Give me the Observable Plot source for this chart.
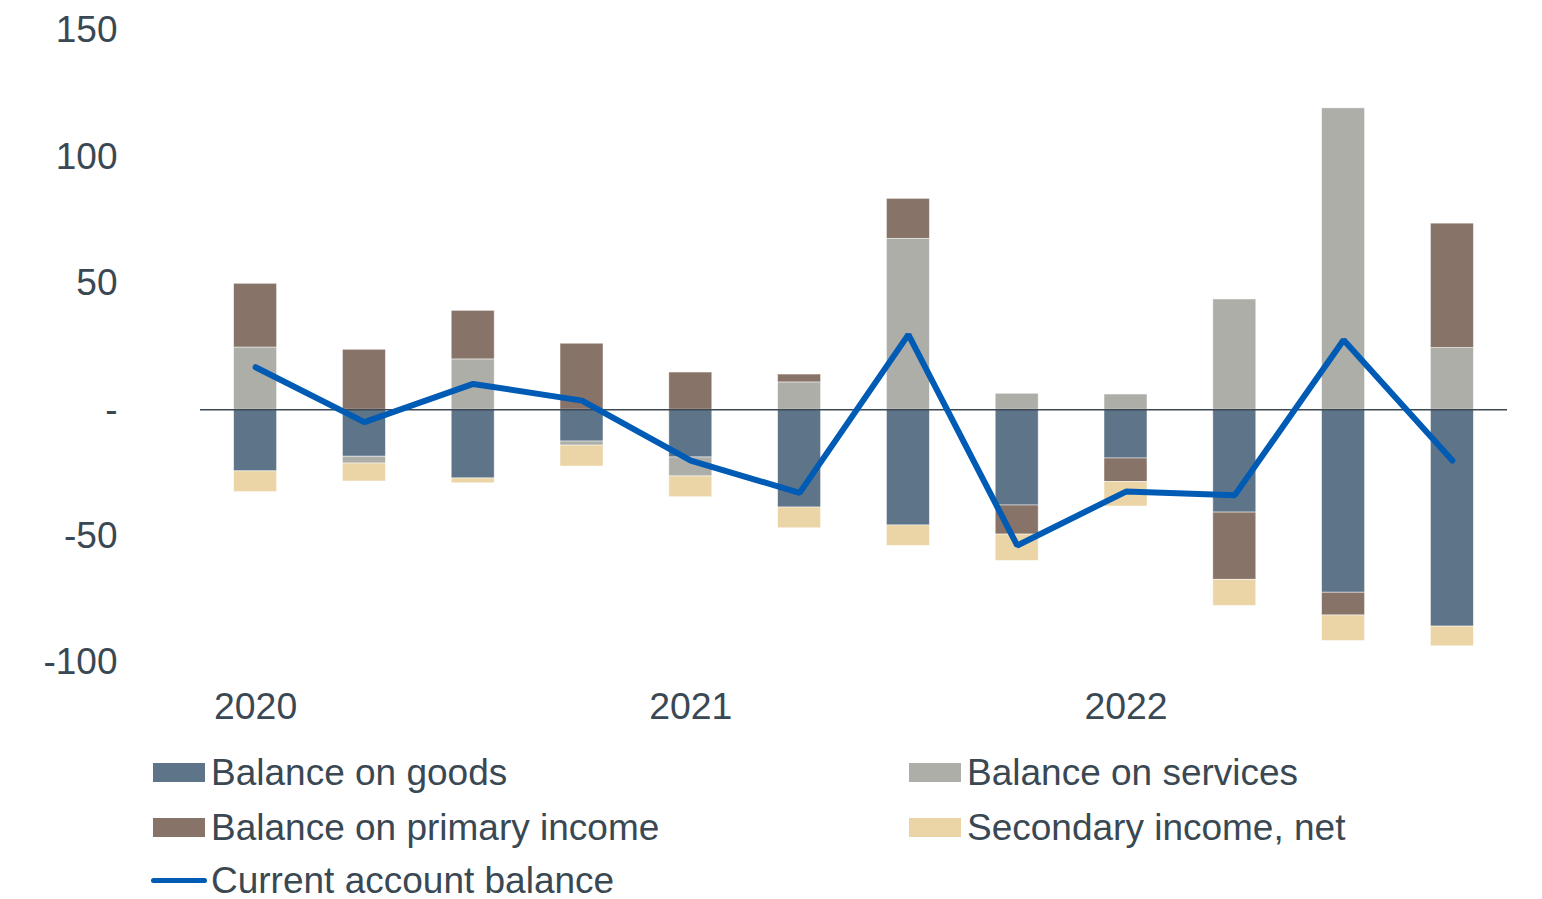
<!DOCTYPE html>
<html>
<head>
<meta charset="utf-8">
<script src="https://cdn.jsdelivr.net/npm/d3@7"></script>
<script src="https://cdn.jsdelivr.net/npm/@observablehq/plot@0.6"></script>
<style>
  html, body { margin: 0; padding: 0; background: #ffffff; }
  body { width: 1542px; height: 899px; overflow: hidden; font-family: "Liberation Sans", Arial, sans-serif; color: #3a4853; }
  #legend { position: relative; height: 159px; }
  .item { position: absolute; display: flex; align-items: center; font-size: 37px; line-height: 1; white-space: nowrap; height: 36px; }
  .sw { width: 52px; height: 19px; margin-right: 6px; }
  .ln { width: 56px; height: 5px; border-radius: 3px; margin-right: 4px; }
</style>
</head>
<body>
<div id="chart"></div>
<div id="legend"></div>
<script>
const quarters = ["2020Q1","2020Q2","2020Q3","2020Q4","2021Q1","2021Q2","2021Q3","2021Q4","2022Q1","2022Q2","2022Q3","2022Q4"];
const seriesNames = ["Balance on goods","Balance on services","Balance on primary income","Secondary income, net"];
const goods     = [-24.4,-18.6,-27.2,-12.6,-18.9,-38.7,-45.8,-37.9,-19.3,-40.7,-72.4,-85.8];
const services  = [24.6,-2.7,19.9,-1.6,-7.5,10.8,67.6,6.3,6.0,43.6,119.2,24.4];
const primary   = [25.2,23.7,19.2,26.1,14.7,3.1,15.8,-11.5,-9.3,-26.6,-9.0,49.2];
const secondary = [-8.2,-7.1,-1.9,-8.3,-8.2,-8.2,-8.1,-10.4,-9.7,-10.3,-10.1,-7.8];
const currentName = "Current account balance";
const current   = [16.8,-4.9,10.2,3.6,-20.1,-32.9,29.7,-53.7,-32.4,-33.8,27.6,-20.1];
const yTicks = [150,100,50,0,-50,-100];
const colors = ["#5e7589","#adaea8","#877367","#ebd5a6"];
const lineColor = "#005bb5";

const seriesValues = [goods, services, primary, secondary];
const barData = [];
seriesNames.forEach((s, i) => quarters.forEach((q, j) => barData.push({quarter: q, series: s, value: seriesValues[i][j]})));
const lineData = quarters.map((q, j) => ({quarter: q, value: current[j]}));

const chart = Plot.plot({
  width: 1542,
  height: 740,
  marginLeft: 200,
  marginRight: 35,
  marginTop: 30,
  marginBottom: 78,
  style: {fontFamily: "'Liberation Sans', Arial, sans-serif", fontSize: "37px", color: "#3a4853", background: "#ffffff"},
  x: {type: "band", domain: quarters, paddingInner: 0.605, paddingOuter: 0.309, round: false, label: null},
  y: {domain: [-100, 150], label: null},
  color: {domain: seriesNames, range: colors},
  marks: [
    Plot.barY(barData, {x: "quarter", y: "value", fill: "series", stroke: "#ffffff", strokeOpacity: 0.6, strokeWidth: 0.8}),
    Plot.ruleY([0], {stroke: "#3d4a55", strokeWidth: 1.6}),
    Plot.line(lineData, {x: "quarter", y: "value", stroke: lineColor, strokeWidth: 6, strokeLinecap: "round", strokeLinejoin: "miter"}),
    Plot.axisY({ticks: yTicks, tickSize: 0, tickPadding: 83, tickFormat: d => d === 0 ? "-" : String(d), fontSize: 37}),
    Plot.axisX({tickSize: 0, tickPadding: 30, tickFormat: d => d.endsWith("Q1") ? d.slice(0, 4) : "", fontSize: 37.4})
  ]
});
document.getElementById("chart").appendChild(chart);

const legend = document.getElementById("legend");
const pos = [[153, 14], [909, 14], [153, 69], [909, 69]];
seriesNames.forEach((s, i) => {
  const it = document.createElement("div");
  it.className = "item";
  it.style.left = pos[i][0] + "px";
  it.style.top = pos[i][1] + "px";
  const sw = document.createElement("span");
  sw.className = "sw";
  sw.style.background = colors[i];
  const t = document.createElement("span");
  t.textContent = s;
  it.appendChild(sw); it.appendChild(t);
  legend.appendChild(it);
});
{
  const it = document.createElement("div");
  it.className = "item";
  it.style.left = "151px";
  it.style.top = "122px";
  const ln = document.createElement("span");
  ln.className = "ln";
  ln.style.background = lineColor;
  const t = document.createElement("span");
  t.textContent = currentName;
  it.appendChild(ln); it.appendChild(t);
  legend.appendChild(it);
}
</script>
</body>
</html>
